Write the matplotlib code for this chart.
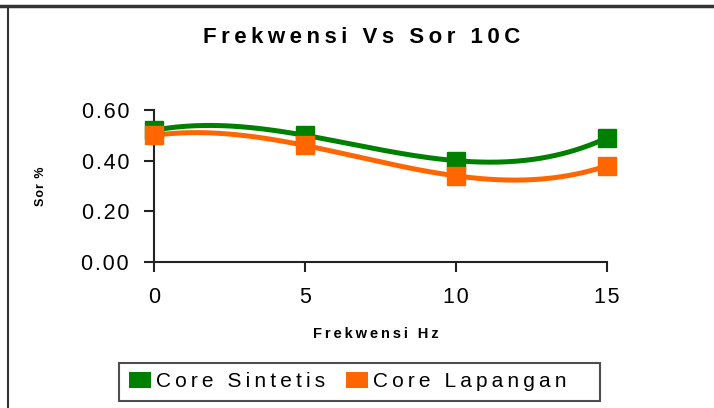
import matplotlib.pyplot as plt
import numpy as np
from matplotlib.lines import Line2D
from matplotlib.patches import Patch

plt.rcParams['font.family'] = ['Liberation Sans', 'DejaVu Sans']

freq = [0, 5, 10, 15]
sor_sintetis = [0.52, 0.50, 0.40, 0.49]
sor_lapangan = [0.50, 0.46, 0.34, 0.38]
x_ticks = [0, 5, 10, 15]
y_ticks = [0.0, 0.2, 0.4, 0.6]

GREEN = '#008000'
ORANGE = '#ff6600'


def spaced(s, gap='\u2009'):
    # fake letter spacing like the old excel chart
    return gap.join(s)


fig = plt.figure(figsize=(7.14, 4.08), dpi=100)
ax = fig.add_axes([0.2157, 0.3578, 0.6345, 0.3726])

# order 3 trendline through the points (smoothed curve in the original)
xs = np.linspace(0, 15, 200)
for vals, col in [(sor_sintetis, GREEN), (sor_lapangan, ORANGE)]:
    coef = np.polyfit(freq, vals, 3)
    ax.plot(xs, np.polyval(coef, xs), color=col, lw=3.6, clip_on=False, zorder=2)
    ax.plot(freq, vals, 's', color=col, ms=12.5, clip_on=False, zorder=3)

ax.set_xlim(0, 15)
ax.set_ylim(0, 0.6)
ax.set_xticks(x_ticks)
ax.set_xticklabels([spaced(str(v), '\u200a') for v in x_ticks])
ax.set_yticks(y_ticks)
ax.set_yticklabels([spaced(f'{v:.2f}', '\u200a') for v in y_ticks])
ax.spines['top'].set_visible(False)
ax.spines['right'].set_visible(False)
for s in ['left', 'bottom']:
    ax.spines[s].set_linewidth(1.5)
    ax.spines[s].set_color('#222222')
ax.tick_params(direction='out', length=7, width=1.5, color='#222222', labelsize=15.5)
ax.tick_params(axis='y', pad=11)
ax.tick_params(axis='x', pad=11)

ax.set_xlabel(spaced('Frekwensi Hz'), fontsize=10.5, fontweight='bold')
ax.xaxis.set_label_coords(0.49, -0.43)
ax.set_ylabel(spaced('Sor %', '\u200a'), fontsize=9, fontweight='bold')
ax.yaxis.set_label_coords(-0.237, 0.5)
fig.text(0.507, 0.909, spaced('Frekwensi Vs Sor 10C'), fontsize=16,
         fontweight='bold', ha='center', va='center')

handles = [Patch(facecolor=GREEN, edgecolor='none', label=spaced('Core Sintetis')),
           Patch(facecolor=ORANGE, edgecolor='none',
                 label=spaced('Core Lapangan') + '\u2009' * 6)]
leg = fig.legend(handles=handles, loc='center', bbox_to_anchor=(0.504, 0.064),
                 ncol=2, fontsize=15, frameon=True, fancybox=False,
                 handlelength=1.05, handleheight=0.77, handletextpad=0.25,
                 columnspacing=1.0, borderpad=0.45, borderaxespad=0)
leg.get_frame().set_edgecolor('#222222')
leg.get_frame().set_linewidth(1.5)

# page frame around the chart
fig.add_artist(Line2D([0, 1], [0.985, 0.985], color='#333333', lw=2.5))
fig.add_artist(Line2D([0.0112, 0.0112], [0, 0.985], color='#333333', lw=1.5))

fig.savefig('out.png', dpi=100)
